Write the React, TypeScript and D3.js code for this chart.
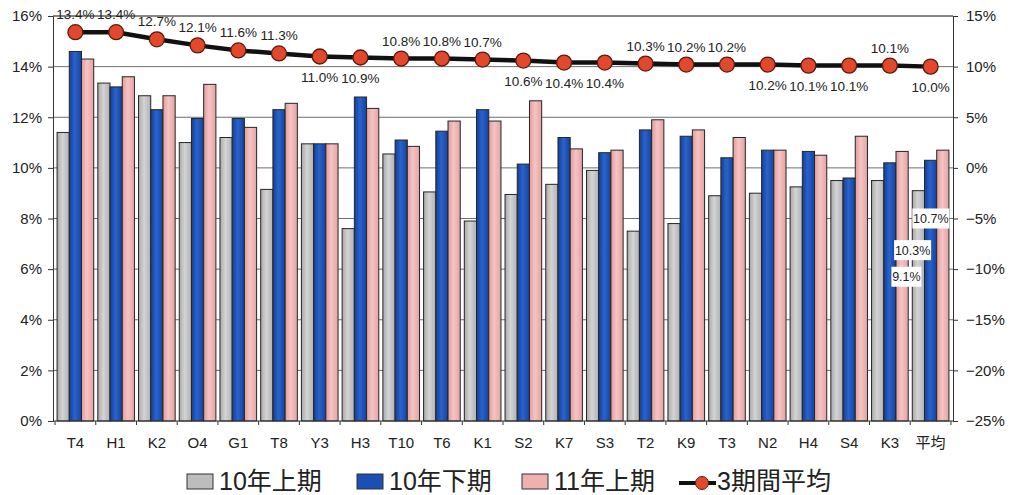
import React, { useEffect, useRef } from 'react';
import * as d3 from 'd3';

const categories = ['T4', 'H1', 'K2', 'O4', 'G1', 'T8', 'Y3', 'H3', 'T10', 'T6', 'K1', 'S2', 'K7', 'S3', 'T2', 'K9', 'T3', 'N2', 'H4', 'S4', 'K3', '平均'];
const first10 = [11.4, 13.35, 12.85, 11.0, 11.2, 9.15, 10.95, 7.6, 10.55, 9.05, 7.9, 8.95, 9.35, 9.9, 7.5, 7.8, 8.9, 9.0, 9.25, 9.5, 9.5, 9.1];
const second10 = [14.6, 13.2, 12.3, 11.95, 11.95, 12.3, 10.95, 12.8, 11.1, 11.45, 12.3, 10.15, 11.2, 10.6, 11.5, 11.25, 10.4, 10.7, 10.65, 9.6, 10.2, 10.3];
const first11 = [14.3, 13.6, 12.85, 13.3, 11.6, 12.55, 10.95, 12.35, 10.85, 11.85, 11.85, 12.65, 10.75, 10.7, 11.9, 11.5, 11.2, 10.7, 10.5, 11.25, 10.65, 10.7];
const avg3 = [13.4, 13.4, 12.7, 12.1, 11.6, 11.3, 11.0, 10.9, 10.8, 10.8, 10.7, 10.6, 10.4, 10.4, 10.3, 10.2, 10.2, 10.2, 10.1, 10.1, 10.1, 10.0];
// 1 = label below the marker
const labelBelow = [0, 0, 0, 0, 0, 0, 1, 1, 0, 0, 0, 1, 1, 1, 0, 0, 0, 1, 1, 1, 0, 1];
const leftTicks = [0, 2, 4, 6, 8, 10, 12, 14, 16];
const rightTicks = [-25, -20, -15, -10, -5, 0, 5, 10, 15];
const seriesNames = ['10年上期', '10年下期', '11年上期'];
const lineName = '3期間平均';

const FONT = '"Liberation Sans", Arial, "Noto Sans CJK JP", sans-serif';

export default function App() {
  const svgRef = useRef<SVGSVGElement>(null);

  useEffect(() => {
    if (!svgRef.current) return;
    const svg = d3.select(svgRef.current);
    svg.selectAll('*').remove();

    const left = 53, right = 953, top = 16, bottom = 421;
    const colors = ['#bdbdbd', '#1b4fb6', '#efb1b0'];
    const series = [first10, second10, first11];

    const x = d3.scaleBand().domain(categories).range([left, right]).paddingInner(0.1).paddingOuter(0.1);
    const xs = d3.scaleBand().domain(['0', '1', '2']).range([0, x.bandwidth()]);
    const yL = d3.scaleLinear().domain([0, 16]).range([bottom, top]);
    const yR = d3.scaleLinear().domain([-25, 15]).range([bottom, top]);

    // gradients for bars
    const defs = svg.append('defs');
    const grads = [['#a9a9a9', '#d4d4d4', '#b0b0b0'], ['#143f96', '#2a63cc', '#15429c'], ['#e09c9b', '#f6c4c3', '#e3a3a2']];
    grads.forEach((c, i) => {
      const g = defs.append('linearGradient').attr('id', `bg${i}`).attr('x1', '0').attr('x2', '1').attr('y1', '0').attr('y2', '0');
      g.append('stop').attr('offset', '0%').attr('stop-color', c[0]);
      g.append('stop').attr('offset', '45%').attr('stop-color', c[1]);
      g.append('stop').attr('offset', '100%').attr('stop-color', c[2]);
    });

    // grid lines
    svg.append('g')
      .selectAll('line')
      .data(leftTicks.filter(d => d > 0))
      .enter()
      .append('line')
      .attr('x1', left).attr('x2', right)
      .attr('y1', d => yL(d)).attr('y2', d => yL(d))
      .attr('stroke', '#6f6f6f')
      .attr('stroke-width', 1);

    // bars
    series.forEach((vals, si) => {
      svg.append('g')
        .selectAll('rect')
        .data(vals)
        .enter()
        .append('rect')
        .attr('x', (_, i) => (x(categories[i]) || 0) + (xs(String(si)) || 0))
        .attr('y', d => yL(d))
        .attr('width', xs.bandwidth())
        .attr('height', d => yL(0) - yL(d))
        .attr('fill', `url(#bg${si})`)
        .attr('stroke', '#262626')
        .attr('stroke-width', 1);
    });

    // left axis
    const axL = svg.append('g').attr('transform', `translate(${left},0)`)
      .call(d3.axisLeft(yL).tickValues(leftTicks).tickSize(5).tickFormat(d => `${d}%`));
    axL.select('.domain').attr('stroke', '#333');
    axL.selectAll('.tick line').attr('stroke', '#333');
    axL.selectAll('text').attr('font-family', FONT).attr('font-size', 15).attr('fill', '#222').attr('x', -11);

    // right axis
    const axR = svg.append('g').attr('transform', `translate(${right},0)`)
      .call(d3.axisRight(yR).tickValues(rightTicks).tickSize(5).tickFormat(d => `${d < 0 ? '−' + (-d) : d}%`));
    axR.select('.domain').attr('stroke', '#333');
    axR.selectAll('.tick line').attr('stroke', '#333');
    axR.selectAll('text').attr('font-family', FONT).attr('font-size', 15).attr('fill', '#222').attr('x', 13);

    // bottom axis
    svg.append('line').attr('x1', left).attr('x2', right).attr('y1', bottom).attr('y2', bottom).attr('stroke', '#333');
    svg.append('line').attr('x1', left).attr('x2', right).attr('y1', top).attr('y2', top).attr('stroke', '#555');
    const step = x.step();
    const bounds = d3.range(categories.length + 1).map(i => (x(categories[0]) || 0) - step * x.paddingInner() / 2 + i * step);
    svg.append('g').selectAll('line').data(bounds).enter().append('line')
      .attr('x1', d => d).attr('x2', d => d).attr('y1', bottom).attr('y2', bottom + 4).attr('stroke', '#333');
    svg.append('g').selectAll('text').data(categories).enter().append('text')
      .attr('x', d => (x(d) || 0) + x.bandwidth() / 2)
      .attr('y', 448)
      .attr('text-anchor', 'middle')
      .attr('font-family', FONT)
      .attr('font-size', 15)
      .attr('fill', '#222')
      .text(d => d);

    // average line
    const cx = (i: number) => (x(categories[i]) || 0) + x.bandwidth() / 2;
    const line = d3.line<number>().x((_, i) => cx(i)).y(d => yR(d));
    svg.append('path').datum(avg3).attr('d', line).attr('fill', 'none').attr('stroke', '#111').attr('stroke-width', 4.5);
    svg.append('g').selectAll('circle').data(avg3).enter().append('circle')
      .attr('cx', (_, i) => cx(i)).attr('cy', d => yR(d)).attr('r', 7.5)
      .attr('fill', '#e2482c').attr('stroke', '#5a1a10').attr('stroke-width', 1.3);
    svg.append('g').selectAll('text').data(avg3).enter().append('text')
      .attr('x', (_, i) => cx(i))
      .attr('y', (d, i) => yR(d) + (labelBelow[i] ? 25 : -13))
      .attr('text-anchor', 'middle')
      .attr('font-family', FONT)
      .attr('font-size', 13.5)
      .attr('fill', '#222')
      .text(d => `${d.toFixed(1)}%`);

    // value labels on the 平均 bars
    const last = categories.length - 1;
    const boxSpots = [8.0, 6.75, 5.7];
    const boxShift = [-12, -18, -12];
    series.map((vals, si) => ({ si, v: vals[last] })).reverse().forEach(({ si, v }) => {
      const bx = (x(categories[last]) || 0) + (xs(String(si)) || 0) + xs.bandwidth() / 2 + boxShift[si];
      const by = yL(boxSpots[2 - si]);
      const txt = `${v.toFixed(1)}%`;
      const w = txt.length * 7 + 2;
      svg.append('rect').attr('x', bx - w / 2).attr('y', by - 10).attr('width', w).attr('height', 20).attr('fill', '#fff');
      svg.append('text').attr('x', bx).attr('y', by + 4.5).attr('text-anchor', 'middle')
        .attr('font-family', FONT).attr('font-size', 12.5).attr('fill', '#222').text(txt);
    });

    // legend
    const lg = svg.append('g');
    const legendX = [187, 357, 522];
    seriesNames.forEach((name, i) => {
      lg.append('rect').attr('x', legendX[i]).attr('y', 474).attr('width', 26).attr('height', 15)
        .attr('fill', colors[i]).attr('stroke', '#333').attr('stroke-width', 1);
      lg.append('text').attr('x', legendX[i] + 32).attr('y', 490)
        .attr('font-family', FONT).attr('font-size', 25).attr('fill', '#222').text(name);
    });
    lg.append('line').attr('x1', 679).attr('x2', 716).attr('y1', 483).attr('y2', 483).attr('stroke', '#111').attr('stroke-width', 4);
    lg.append('circle').attr('cx', 702).attr('cy', 483).attr('r', 6.5).attr('fill', '#e2482c').attr('stroke', '#5a1a10');
    lg.append('text').attr('x', 717).attr('y', 490)
      .attr('font-family', FONT).attr('font-size', 25).attr('fill', '#222').text(lineName);
  }, []);

  return (
    <svg
      ref={svgRef}
      width={1014}
      height={495}
      style={{ position: 'absolute', left: 0, top: 0, background: '#fff' }}
    />
  );
}
